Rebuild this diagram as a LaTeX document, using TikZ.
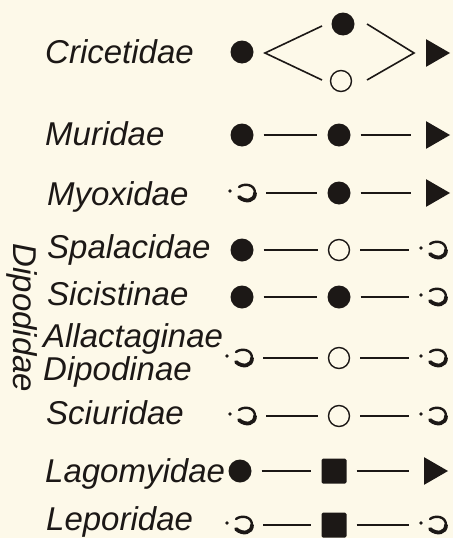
\documentclass[tikz,border=0pt]{standalone}
\usepackage{fontspec}
\setmainfont{Liberation Sans}
\usetikzlibrary{shapes.geometric}
\definecolor{paper}{RGB}{253,249,233}
\definecolor{ink}{RGB}{28,24,22}
\tikzset{
  lab/.style={anchor=base west, font=\fontsize{33}{36}\selectfont\itshape, inner sep=0pt, text=ink},
  fdot/.style={circle, fill=ink, inner sep=0pt, minimum size=23pt},
  odot/.style={circle, draw=ink, line width=1.4pt, inner sep=0pt, minimum size=21pt},
  sq/.style={rectangle, fill=ink, inner sep=0pt, minimum size=25pt, rounded corners=1.5pt},
  tri/.style={regular polygon, regular polygon sides=3, shape border rotate=-90, fill=ink, inner sep=0pt, minimum size=32pt},
  hk/.style={inner sep=0pt, minimum width=28pt, minimum height=16pt},
  conn/.style={draw=ink, line width=1.6pt, shorten <=10pt, shorten >=10pt},
  totri/.style={conn, shorten >=15pt},
  hookmark/.pic={
    \fill[ink] (-16,-2) circle (1.8);
    \draw[ink, line width=2.4pt, line cap=round] (-7,-6) .. controls (-2,-10) and (9,-9) .. (9,0);
    \draw[ink, line width=3.8pt, line cap=round] (9,0) .. controls (9,8) and (0,10) .. (-7,4);
  }
}
\newcommand{\hooknode}[3]{\node[hk] (#1) at (#2-4,#3) {}; \pic at (#2,#3) {hookmark};}
\begin{document}
\begin{tikzpicture}[x=1pt,y=-1pt]
\fill[paper] (0,0) rectangle (453,538);
\useasboundingbox (0,0) rectangle (453,538);

% labels
\node[lab] (lcri) at (45,63) {Cricetidae};
\node[lab] (lmur) at (45,145) {Muridae};
\node[lab] (lmyo) at (47,205) {Myoxidae};
\node[lab] (lspa) at (47,258) {Spalacidae};
\node[lab] (lsic) at (47,305) {Sicistinae};
\node[lab] (lall) at (43,347) {Allactaginae};
\node[lab] (ldip) at (43,380) {Dipodinae};
\node[lab] (lsci) at (46,424) {Sciuridae};
\node[lab] (llag) at (45,482) {Lagomyidae};
\node[lab] (llep) at (46,530) {Leporidae};
\node[font=\fontsize{33}{36}\selectfont\itshape, text=ink, rotate=-90, inner sep=0pt] (fam) at (22,318) {Dipodidae};

% Cricetidae
\node[fdot] (c1) at (242,52) {};
\node[fdot] (c2a) at (343,24) {};
\node[odot] (c2b) at (341,81) {};
\node[tri] (c3) at (434,53) {};
\coordinate (lapex) at (265,53);
\coordinate (lup) at (322,26);
\coordinate (ldn) at (322,80);
\coordinate (rup) at (367,24);
\coordinate (rdn) at (367,80);
\coordinate (rapex) at (414,53);
\draw[ink, line width=1.6pt] (lup) -- (lapex) -- (ldn);
\draw[ink, line width=1.6pt] (rup) -- (rapex) -- (rdn);

% Muridae
\node[fdot] (m1) at (242,135) {};
\node[fdot] (m2) at (339,135) {};
\node[tri] (m3) at (434,135) {};
\draw[conn] (m1) -- (m2);
\draw[totri] (m2) -- (m3);

% Myoxidae
\hooknode{y1}{246}{193}
\node[fdot] (y2) at (339,193) {};
\node[tri] (y3) at (434,193) {};
\draw[conn] (y1) -- (y2);
\draw[totri] (y2) -- (y3);

% Spalacidae
\node[fdot] (s1) at (242,250) {};
\node[odot] (s2) at (339,250) {};
\hooknode{s3}{437}{250}
\draw[conn] (s1) -- (s2);
\draw[conn] (s2) -- (s3);

% Sicistinae
\node[fdot] (t1) at (242,297) {};
\node[fdot] (t2) at (339,297) {};
\hooknode{t3}{437}{297}
\draw[conn] (t1) -- (t2);
\draw[conn] (t2) -- (t3);

% Allactaginae / Dipodinae
\hooknode{a1}{243}{358}
\node[odot] (a2) at (339,358) {};
\hooknode{a3}{437}{358}
\draw[conn] (a1) -- (a2);
\draw[conn] (a2) -- (a3);

% Sciuridae
\hooknode{r1}{246}{416}
\node[odot] (r2) at (339,416) {};
\hooknode{r3}{437}{416}
\draw[conn] (r1) -- (r2);
\draw[conn] (r2) -- (r3);

% Lagomyidae
\node[fdot] (g1) at (240,471) {};
\node[sq] (g2) at (334,471) {};
\node[tri] (g3) at (432,471) {};
\draw[conn] (g1) -- (g2);
\draw[totri] (g2) -- (g3);

% Leporidae
\hooknode{p1}{243}{525}
\node[sq] (p2) at (334,525) {};
\hooknode{p3}{437}{525}
\draw[conn] (p1) -- (p2);
\draw[conn] (p2) -- (p3);
\end{tikzpicture}
\end{document}
